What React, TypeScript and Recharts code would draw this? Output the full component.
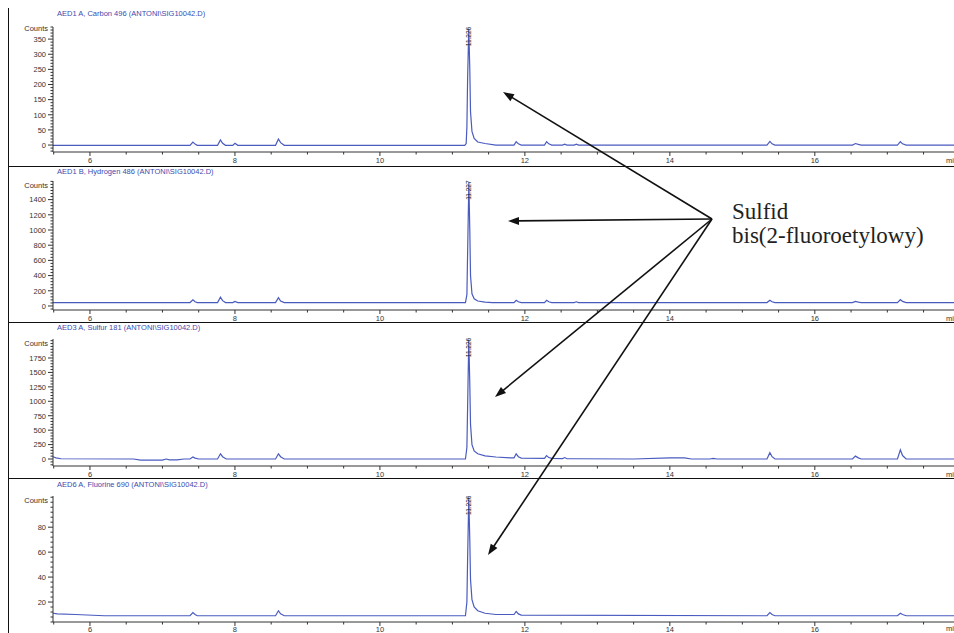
import React from 'react';
import { LineChart, Line, XAxis, YAxis, ReferenceDot } from 'recharts';

// retention time (min) / counts
const carbon: [number, number][] = [
  [5.49, -1], [7.38, -1], [7.42, 10], [7.45, 3], [7.48, -1],
  [7.76, -1], [7.8, 17], [7.83, 6], [7.87, -1],
  [7.97, -1], [8.0, 6], [8.04, -1],
  [8.56, -1], [8.6, 20], [8.63, 8], [8.68, -1],
  [11.17, -1], [11.19, 5], [11.2, 60], [11.21, 220], [11.226, 385], [11.24, 250],
  [11.25, 110], [11.27, 45], [11.3, 22], [11.35, 10], [11.45, 5], [11.6, 0],
  [11.85, 0], [11.88, 11], [11.91, 4], [11.95, 0],
  [12.27, 0], [12.3, 11], [12.33, 4], [12.37, 0],
  [12.52, 0], [12.55, 3], [12.58, 0],
  [12.68, 0], [12.71, 3], [12.74, 0],
  [15.34, 0], [15.38, 12], [15.41, 4], [15.45, 0],
  [16.52, 0], [16.56, 5], [16.6, 2], [16.64, 0],
  [17.14, 0], [17.18, 11], [17.21, 4], [17.26, 0],
  [17.92, 0],
];

const hydrogen: [number, number][] = [
  [5.49, 45], [7.38, 45], [7.42, 80], [7.45, 55], [7.48, 45],
  [7.76, 45], [7.8, 115], [7.83, 70], [7.87, 45],
  [7.97, 45], [8.0, 60], [8.04, 45],
  [8.56, 45], [8.6, 110], [8.63, 65], [8.68, 45],
  [11.18, 45], [11.2, 150], [11.21, 700], [11.227, 1630], [11.24, 1000],
  [11.25, 400], [11.27, 160], [11.3, 95], [11.35, 65], [11.45, 50], [11.55, 45],
  [11.85, 45], [11.88, 75], [11.91, 55], [11.95, 45],
  [12.27, 45], [12.3, 75], [12.33, 55], [12.37, 45],
  [12.68, 45], [12.71, 55], [12.74, 45],
  [15.34, 45], [15.38, 75], [15.41, 55], [15.45, 45],
  [16.52, 45], [16.56, 60], [16.6, 50], [16.64, 45],
  [17.14, 45], [17.18, 85], [17.21, 60], [17.26, 45],
  [17.92, 45],
];

const sulfur: [number, number][] = [
  [5.49, 40], [5.53, 20], [5.6, 5], [6.6, 0], [6.7, -20], [7.0, -20], [7.05, 0],
  [7.1, -15], [7.2, -15], [7.3, 0],
  [7.38, 0], [7.42, 35], [7.45, 15], [7.5, 0],
  [7.76, 0], [7.8, 90], [7.83, 40], [7.88, 0],
  [8.56, 0], [8.6, 90], [8.63, 40], [8.68, 0],
  [11.18, 0], [11.2, 200], [11.21, 900], [11.226, 2070], [11.24, 1300],
  [11.25, 600], [11.27, 250], [11.3, 140], [11.35, 90], [11.45, 55], [11.6, 35], [11.8, 20],
  [11.85, 20], [11.88, 90], [11.91, 40], [11.95, 15],
  [12.27, 10], [12.3, 60], [12.33, 25], [12.37, 10],
  [12.52, 8], [12.55, 25], [12.58, 5], [12.7, 5],
  [13.5, 0], [14.0, 20], [14.2, 20], [14.3, 0],
  [14.55, 0], [14.6, 10], [14.65, 0],
  [15.34, 0], [15.38, 110], [15.41, 40], [15.45, 0],
  [16.52, 0], [16.56, 50], [16.6, 20], [16.64, 0],
  [17.14, 0], [17.18, 160], [17.21, 60], [17.26, 0],
  [17.92, 0],
];

const fluorine: [number, number][] = [
  [5.49, 11], [5.55, 10.5], [5.8, 10], [6.2, 9],
  [7.38, 9], [7.42, 11.5], [7.45, 10], [7.48, 9],
  [8.56, 9], [8.6, 13], [8.63, 10.5], [8.68, 9],
  [11.18, 9], [11.2, 20], [11.21, 55], [11.226, 104], [11.24, 70],
  [11.25, 38], [11.27, 22], [11.3, 16], [11.35, 13], [11.45, 11], [11.6, 10],
  [11.85, 10], [11.88, 12.5], [11.91, 10.5], [11.95, 9.5],
  [15.34, 9], [15.38, 11.5], [15.41, 10], [15.45, 9],
  [17.14, 9], [17.18, 11], [17.21, 10], [17.26, 9],
  [17.92, 9],
];

const titles = [
  'AED1 A, Carbon 496 (ANTONI\\SIG10042.D)',
  'AED1 B, Hydrogen 486 (ANTONI\\SIG10042.D)',
  'AED3 A, Sulfur 181 (ANTONI\\SIG10042.D)',
  'AED6 A, Fluorine 690 (ANTONI\\SIG10042.D)',
];
const peakLabels = ['11.226', '11.227', '11.226', '11.226'];
const peakTimes = [11.226, 11.227, 11.226, 11.226];
const peakCounts = [385, 1630, 2070, 104];

const carbonTicks = [0, 50, 100, 150, 200, 250, 300, 350];
const hydrogenTicks = [0, 200, 400, 600, 800, 1000, 1200, 1400];
const sulfurTicks = [0, 250, 500, 750, 1000, 1250, 1500, 1750];
const fluorineTicks = [20, 40, 60, 80];
const timeTicks = [6, 8, 10, 12, 14, 16];

const BLUE = '#4a5bbf';
const INK = '#333';
const SANS = "'Liberation Sans', Arial, sans-serif";
const X_DOMAIN: [number, number] = [5.49, 17.92];

// sub-divide the labelled ticks for the ruler marks
const withMinor = (major: number[], parts: number, lo: number, hi: number) => {
  const step = (major[1] - major[0]) / parts;
  const out: number[] = [];
  for (let v = major[0] - Math.floor((major[0] - lo) / step) * step; v <= hi; v += step) {
    out.push(Math.round(v * 1000) / 1000);
  }
  return out;
};

const minorTimes = withMinor([6, 8], 4, 5.5, 17.9);

const yTick = (major: number[]) => (props: any) => {
  const { x, y, payload } = props;
  const isMajor = major.some((m) => Math.abs(m - payload.value) < 1e-6);
  return (
    <g>
      <line x1={x - (isMajor ? 5 : 2.5)} x2={x} y1={y} y2={y} stroke={INK} strokeWidth={1} />
      {isMajor && (
        <text x={x - 7} y={y} dy={2.8} textAnchor="end" fontSize={7.5} fill={INK} fontFamily={SANS}>
          {payload.value}
        </text>
      )}
    </g>
  );
};

const xTick = (labelOffset: number) => (props: any) => {
  const { x, y, payload } = props;
  const isMajor = timeTicks.some((m) => Math.abs(m - payload.value) < 1e-6);
  return (
    <g>
      <line x1={x} x2={x} y1={y} y2={y + (isMajor ? 4 : 2.5)} stroke={INK} strokeWidth={1} />
      {isMajor && (
        <text x={x} y={y + labelOffset} textAnchor="middle" fontSize={7.5} fill={INK} fontFamily={SANS}>
          {payload.value}
        </text>
      )}
    </g>
  );
};

const peakTag = (label: string) => (props: any) => {
  const { cx, cy } = props;
  if (cx == null || cy == null) return <g />;
  return (
    <text x={cx} y={cy + 8} transform={`rotate(-90 ${cx} ${cy + 8})`} textAnchor="middle"
      dy={2.3} fontSize={6.5} fill="#222" fontFamily={SANS}>
      {label}
    </text>
  );
};

interface PanelProps {
  index: number;
  points: [number, number][];
  major: number[];
  parts: number;
  domain: [number, number];
  top: number;
  height: number;
  marginTop: number;
  axisHeight: number;
  titleY: number;
  countsY: number;
  labelOffset: number;
}

function Panel({ index, points, major, parts, domain, top, height, marginTop, axisHeight, titleY, countsY, labelOffset }: PanelProps) {
  const data = points.map(([t, c]) => ({ t, c }));
  const yTicks = withMinor(major, parts, domain[0], domain[1]);
  return (
    <div style={{ position: 'absolute', left: 0, top, width: 954, height }}>
      <div style={{ position: 'absolute', left: 57, top: titleY - top - 5, fontSize: 7.5, color: '#3b4bb0', fontFamily: SANS, whiteSpace: 'nowrap', lineHeight: '10px' }}>
        {titles[index]}
      </div>
      <div style={{ position: 'absolute', right: 954 - 48, top: countsY - top - 5, fontSize: 7.5, color: INK, fontFamily: SANS, lineHeight: '10px' }}>
        Counts
      </div>
      <LineChart width={954} height={height} data={data}
        margin={{ top: marginTop, right: 0, bottom: 0, left: 0 }}>
        <XAxis dataKey="t" type="number" domain={X_DOMAIN} allowDataOverflow ticks={minorTimes}
          interval={0} tick={xTick(labelOffset)} tickLine={false} tickSize={0} tickMargin={0}
          height={axisHeight} axisLine={{ stroke: INK }} />
        <YAxis type="number" domain={domain} allowDataOverflow ticks={yTicks} interval={0}
          tick={yTick(major)} tickLine={false} tickSize={0} tickMargin={0} width={53}
          axisLine={{ stroke: INK }} />
        <Line dataKey="c" type="linear" stroke={BLUE} strokeWidth={1.2} dot={false}
          isAnimationActive={false} />
        <ReferenceDot x={peakTimes[index]} y={peakCounts[index]} r={0}
          shape={peakTag(peakLabels[index])} ifOverflow="visible" />
      </LineChart>
    </div>
  );
}

// annotation arrows: hub and targets on the page
const hub = { x: 712, y: 219 };
const tips = [
  { x: 503, y: 92 },
  { x: 508, y: 221 },
  { x: 495, y: 397 },
  { x: 488, y: 555 },
];

function Arrows() {
  return (
    <svg width={954} height={633} style={{ position: 'absolute', left: 0, top: 0, pointerEvents: 'none' }}>
      {tips.map((p, i) => {
        const dx = p.x - hub.x;
        const dy = p.y - hub.y;
        const len = Math.hypot(dx, dy);
        const ux = dx / len;
        const uy = dy / len;
        const headLen = 11;
        const half = 4;
        const bx = p.x - ux * headLen;
        const by = p.y - uy * headLen;
        const pts = `${p.x},${p.y} ${bx - uy * half},${by + ux * half} ${bx + uy * half},${by - ux * half}`;
        return (
          <g key={i}>
            <line x1={hub.x} y1={hub.y} x2={bx + ux * 2} y2={by + uy * 2} stroke="#111" strokeWidth={1.6} />
            <polygon points={pts} fill="#111" />
          </g>
        );
      })}
      <text x={732} y={219} fontSize={23} fill="#222" fontFamily="'Liberation Serif', 'Times New Roman', serif">Sulfid</text>
      <text x={732} y={243} fontSize={23} fill="#222" fontFamily="'Liberation Serif', 'Times New Roman', serif">bis(2-fluoroetylowy)</text>
    </svg>
  );
}

export default function App() {
  return (
    <div style={{ position: 'absolute', left: 0, top: 0, width: 954, height: 633, background: '#fff', overflow: 'hidden' }}>
      <Panel index={0} points={carbon} major={carbonTicks} parts={5} domain={[-23, 390]}
        top={0} height={166} marginTop={27} axisHeight={14} titleY={14} countsY={29} labelOffset={11} />
      <Panel index={1} points={hydrogen} major={hydrogenTicks} parts={5} domain={[-53, 1645]}
        top={166} height={156} marginTop={15} axisHeight={12} titleY={172} countsY={186} labelOffset={11} />
      <Panel index={2} points={sulfur} major={sulfurTicks} parts={5} domain={[-121, 2079]}
        top={322} height={156} marginTop={17} axisHeight={12} titleY={328} countsY={344} labelOffset={11} />
      <Panel index={3} points={fluorine} major={fluorineTicks} parts={5} domain={[4, 105]}
        top={478} height={155} marginTop={18} axisHeight={11} titleY={485} countsY={501} labelOffset={9.5} />
      <svg width={954} height={633} style={{ position: 'absolute', left: 0, top: 0, pointerEvents: 'none' }}>
        <line x1={8.5} y1={8} x2={8.5} y2={633} stroke="#111" strokeWidth={1} />
        <line x1={8} y1={166.5} x2={954} y2={166.5} stroke="#111" strokeWidth={1} />
        <line x1={8} y1={322.5} x2={954} y2={322.5} stroke="#111" strokeWidth={1} />
        <line x1={8} y1={478.5} x2={954} y2={478.5} stroke="#111" strokeWidth={1} />
        <text x={946} y={163} fontSize={7.5} fill={INK} fontFamily={SANS}>min</text>
        <text x={946} y={321} fontSize={7.5} fill={INK} fontFamily={SANS}>min</text>
        <text x={946} y={477} fontSize={7.5} fill={INK} fontFamily={SANS}>min</text>
        <text x={946} y={631} fontSize={7.5} fill={INK} fontFamily={SANS}>min</text>
      </svg>
      <Arrows />
    </div>
  );
}
